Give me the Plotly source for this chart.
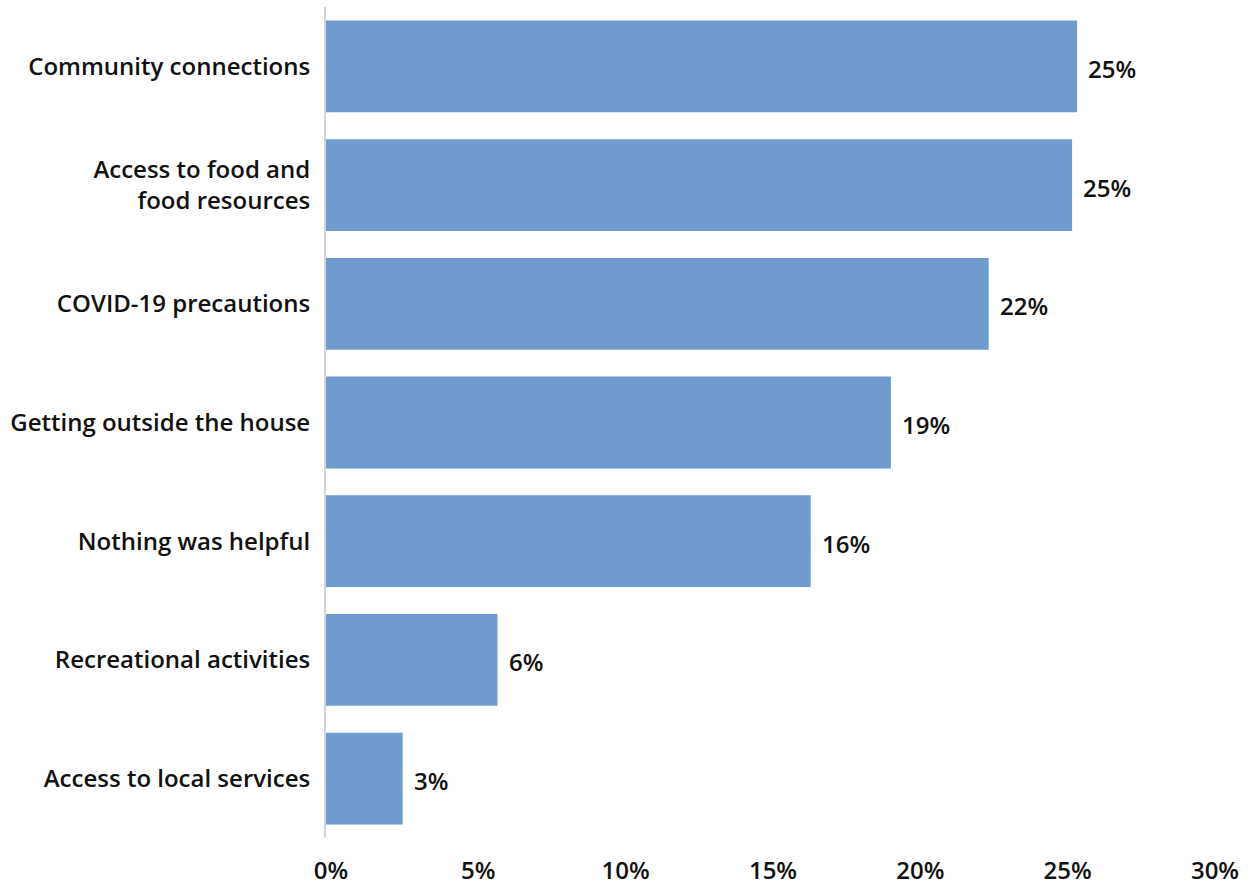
import plotly.graph_objects as go

# What helped during the pandemic (share of respondents, %)
categories = [
    "Community connections",
    "Access to food and<br>food resources",
    "COVID-19 precautions",
    "Getting outside the house",
    "Nothing was helpful",
    "Recreational activities",
    "Access to local services",
]
shares = [25.49, 25.32, 22.49, 19.17, 16.45, 5.82, 2.6]

tick_values = [0, 5, 10, 15, 20, 25, 30]
tick_labels = ["0%", "5%", "10%", "15%", "20%", "25%", "30%"]

BAR_COLOR = "#6F9BCE"
FONT = "Open Sans"
TEXT = dict(family=FONT, size=24, color="#111111", weight=600)

fig = go.Figure(
    go.Bar(
        x=shares,
        y=categories,
        orientation="h",
        marker=dict(color=BAR_COLOR, line=dict(width=0)),
        hoverinfo="skip",
    )
)

# value labels just to the right of each bar
for cat, val in zip(categories, shares):
    fig.add_annotation(
        x=val, y=cat, text=f"{round(val)}%",
        showarrow=False, xanchor="left", yanchor="middle", xshift=9, yshift=-2,
        font=TEXT,
    )

fig.update_layout(
    width=1251,
    height=886,
    margin=dict(l=326, r=41, t=7, b=48),
    paper_bgcolor="white",
    plot_bgcolor="white",
    bargap=0.227,
    showlegend=False,
    font=TEXT,
    xaxis=dict(
        range=[0, 30],
        tickvals=tick_values,
        ticktext=tick_labels,
        showgrid=False,
        zeroline=False,
        showline=False,
        ticks="outside",
        ticklen=11,
        tickcolor="rgba(0,0,0,0)",
        ticklabelshift=5,
        automargin=False,
        tickfont=TEXT,
    ),
    yaxis=dict(
        autorange="reversed",
        showgrid=False,
        zeroline=False,
        showline=True,
        linecolor="#D4D4D4",
        linewidth=2,
        ticks="outside",
        ticklen=9,
        tickcolor="rgba(0,0,0,0)",
        automargin=False,
        tickfont=TEXT,
    ),
)

fig.write_html("out.html")
